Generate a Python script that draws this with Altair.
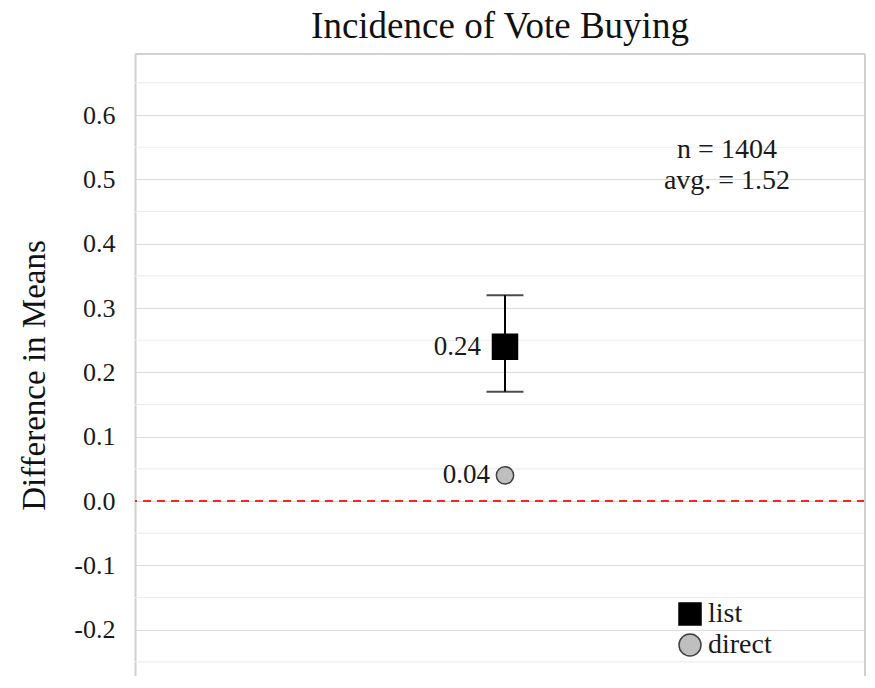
import altair as alt
import pandas as pd

# ---- data ----
series = ["list", "direct"]
estimates = [0.24, 0.04]
ci_low = [0.17, None]
ci_high = [0.32, None]
est_labels = ["0.24", "0.04"]
category_pos = [1, 1]

note_lines = ["n = 1404", "avg. = 1.52"]
note_x = [1.6, 1.6]
note_y = [0.546, 0.498]

major_ticks = [-0.2, -0.1, 0.0, 0.1, 0.2, 0.3, 0.4, 0.5, 0.6]
minor_ticks = [-0.25, -0.15, -0.05, 0.05, 0.15, 0.25, 0.35, 0.45, 0.55, 0.65]

FONT = "Liberation Serif"
W, H = 730, 622

df = pd.DataFrame({
    "series": series,
    "est": estimates,
    "lo": ci_low,
    "hi": ci_high,
    "label": est_labels,
    "x": category_pos,
})
notes = pd.DataFrame({"text": note_lines, "x": note_x, "y": note_y})

xscale = alt.Scale(domain=[0, 1.973], nice=False, zero=False)
yscale = alt.Scale(domain=[0.695 - 0.995 * H / 640, 0.695], nice=False, zero=False)

X = alt.X("x:Q", scale=xscale, axis=None)

base = alt.Chart(df)

yaxis = alt.Axis(
    values=major_ticks,
    labelExpr="(datum.value < -0.001 ? '-' : '') + format(abs(datum.value), '.1f')",
    labelOverlap=False,
    grid=True,
    gridColor="#dcdcdc",
    gridWidth=1.2,
    ticks=False,
    domain=True,
    domainColor="#d0d0d0",
    domainWidth=2,
    labelFont=FONT,
    labelFontSize=26,
    labelColor="#1a1a1a",
    labelPadding=20,
    title="Difference in Means",
    titleFont=FONT,
    titleFontSize=33,
    titleFontWeight="normal",
    titleColor="#111111",
    titlePadding=22,
    titleY=321,
)

minor_grid = alt.Chart(pd.DataFrame({"y": minor_ticks})).mark_rule(
    color="#ededed", strokeWidth=1.2
).encode(y=alt.Y("y:Q", scale=yscale, axis=yaxis))

zero_line = alt.Chart(pd.DataFrame({"y": [0.0]})).mark_rule(
    color="#ff2020", strokeDash=[8, 6], strokeWidth=2
).encode(y=alt.Y("y:Q", scale=yscale))

frame_top = alt.Chart(pd.DataFrame({"k": [0]})).mark_rule(
    color="#d0d0d0", strokeWidth=2
).encode(x=alt.value(0), x2=alt.value(W), y=alt.value(0))

frame_right = alt.Chart(pd.DataFrame({"k": [0]})).mark_rule(
    color="#d0d0d0", strokeWidth=2
).encode(x=alt.value(W), y=alt.value(0), y2=alt.value(H))

err_rule = base.transform_filter("datum.lo != null").mark_rule(
    color="black", strokeWidth=2
).encode(x=X, y=alt.Y("lo:Q", scale=yscale), y2="hi:Q")

cap_lo = base.transform_filter("datum.lo != null").mark_tick(
    color="black", orient="horizontal", size=37, thickness=2
).encode(x=X, y=alt.Y("lo:Q", scale=yscale))

cap_hi = base.transform_filter("datum.hi != null").mark_tick(
    color="black", orient="horizontal", size=37, thickness=2
).encode(x=X, y=alt.Y("hi:Q", scale=yscale))

leg = alt.Legend(title=None, orient="none", legendX=541, legendY=546,
                 symbolSize=484)

shape_enc = alt.Shape("series:N",
                      scale=alt.Scale(domain=series, range=["square", "circle"]),
                      legend=leg)
fill_enc = alt.Fill("series:N",
                    scale=alt.Scale(domain=series, range=["#000000", "#bfbfbf"]),
                    legend=leg)
stroke_enc = alt.Stroke("series:N",
                        scale=alt.Scale(domain=series, range=["#000000", "#404040"]),
                        legend=leg)

pt_list = base.transform_filter("datum.series == 'list'").mark_point(
    filled=True, opacity=1, strokeWidth=1.5, size=625
).encode(x=X, y=alt.Y("est:Q", scale=yscale),
         shape=shape_enc, fill=fill_enc, stroke=stroke_enc)

pt_direct = base.transform_filter("datum.series == 'direct'").mark_point(
    filled=True, opacity=1, strokeWidth=1.5, size=300
).encode(x=X, y=alt.Y("est:Q", scale=yscale),
         shape=shape_enc, fill=fill_enc, stroke=stroke_enc)

lbl_list = base.transform_filter("datum.series == 'list'").mark_text(
    align="right", baseline="middle", dx=-24, font=FONT, fontSize=27, color="#1a1a1a"
).encode(x=X, y=alt.Y("est:Q", scale=yscale), text="label:N")

lbl_direct = base.transform_filter("datum.series == 'direct'").mark_text(
    align="right", baseline="middle", dx=-15, font=FONT, fontSize=27, color="#1a1a1a"
).encode(x=X, y=alt.Y("est:Q", scale=yscale), text="label:N")

note_text = alt.Chart(notes).mark_text(
    align="center", baseline="middle", font=FONT, fontSize=28, color="#1a1a1a"
).encode(x=alt.X("x:Q", scale=xscale, axis=None),
         y=alt.Y("y:Q", scale=yscale),
         text="text:N")

chart = alt.layer(
    minor_grid, zero_line, frame_top, frame_right, err_rule, cap_lo, cap_hi,
    pt_list, pt_direct, lbl_list, lbl_direct, note_text
).properties(
    width=W,
    height=H,
    autosize=alt.AutoSizeParams(type="none"),
    padding={"left": 127, "top": 46, "right": 2, "bottom": 0},
    title=alt.TitleParams(
        "Incidence of Vote Buying",
        font=FONT, fontSize=37, fontWeight="normal", color="#111111",
        anchor="middle", offset=7,
    ),
).configure_view(
    stroke=None
).configure_legend(
    padding=0,
    symbolSize=484,
    symbolStrokeWidth=1.5,
    labelFont=FONT,
    labelFontSize=28,
    labelColor="#1a1a1a",
    labelOffset=4,
    rowPadding=3,
)

chart.save("out.html", embed_options={"renderer": "svg", "actions": False})
